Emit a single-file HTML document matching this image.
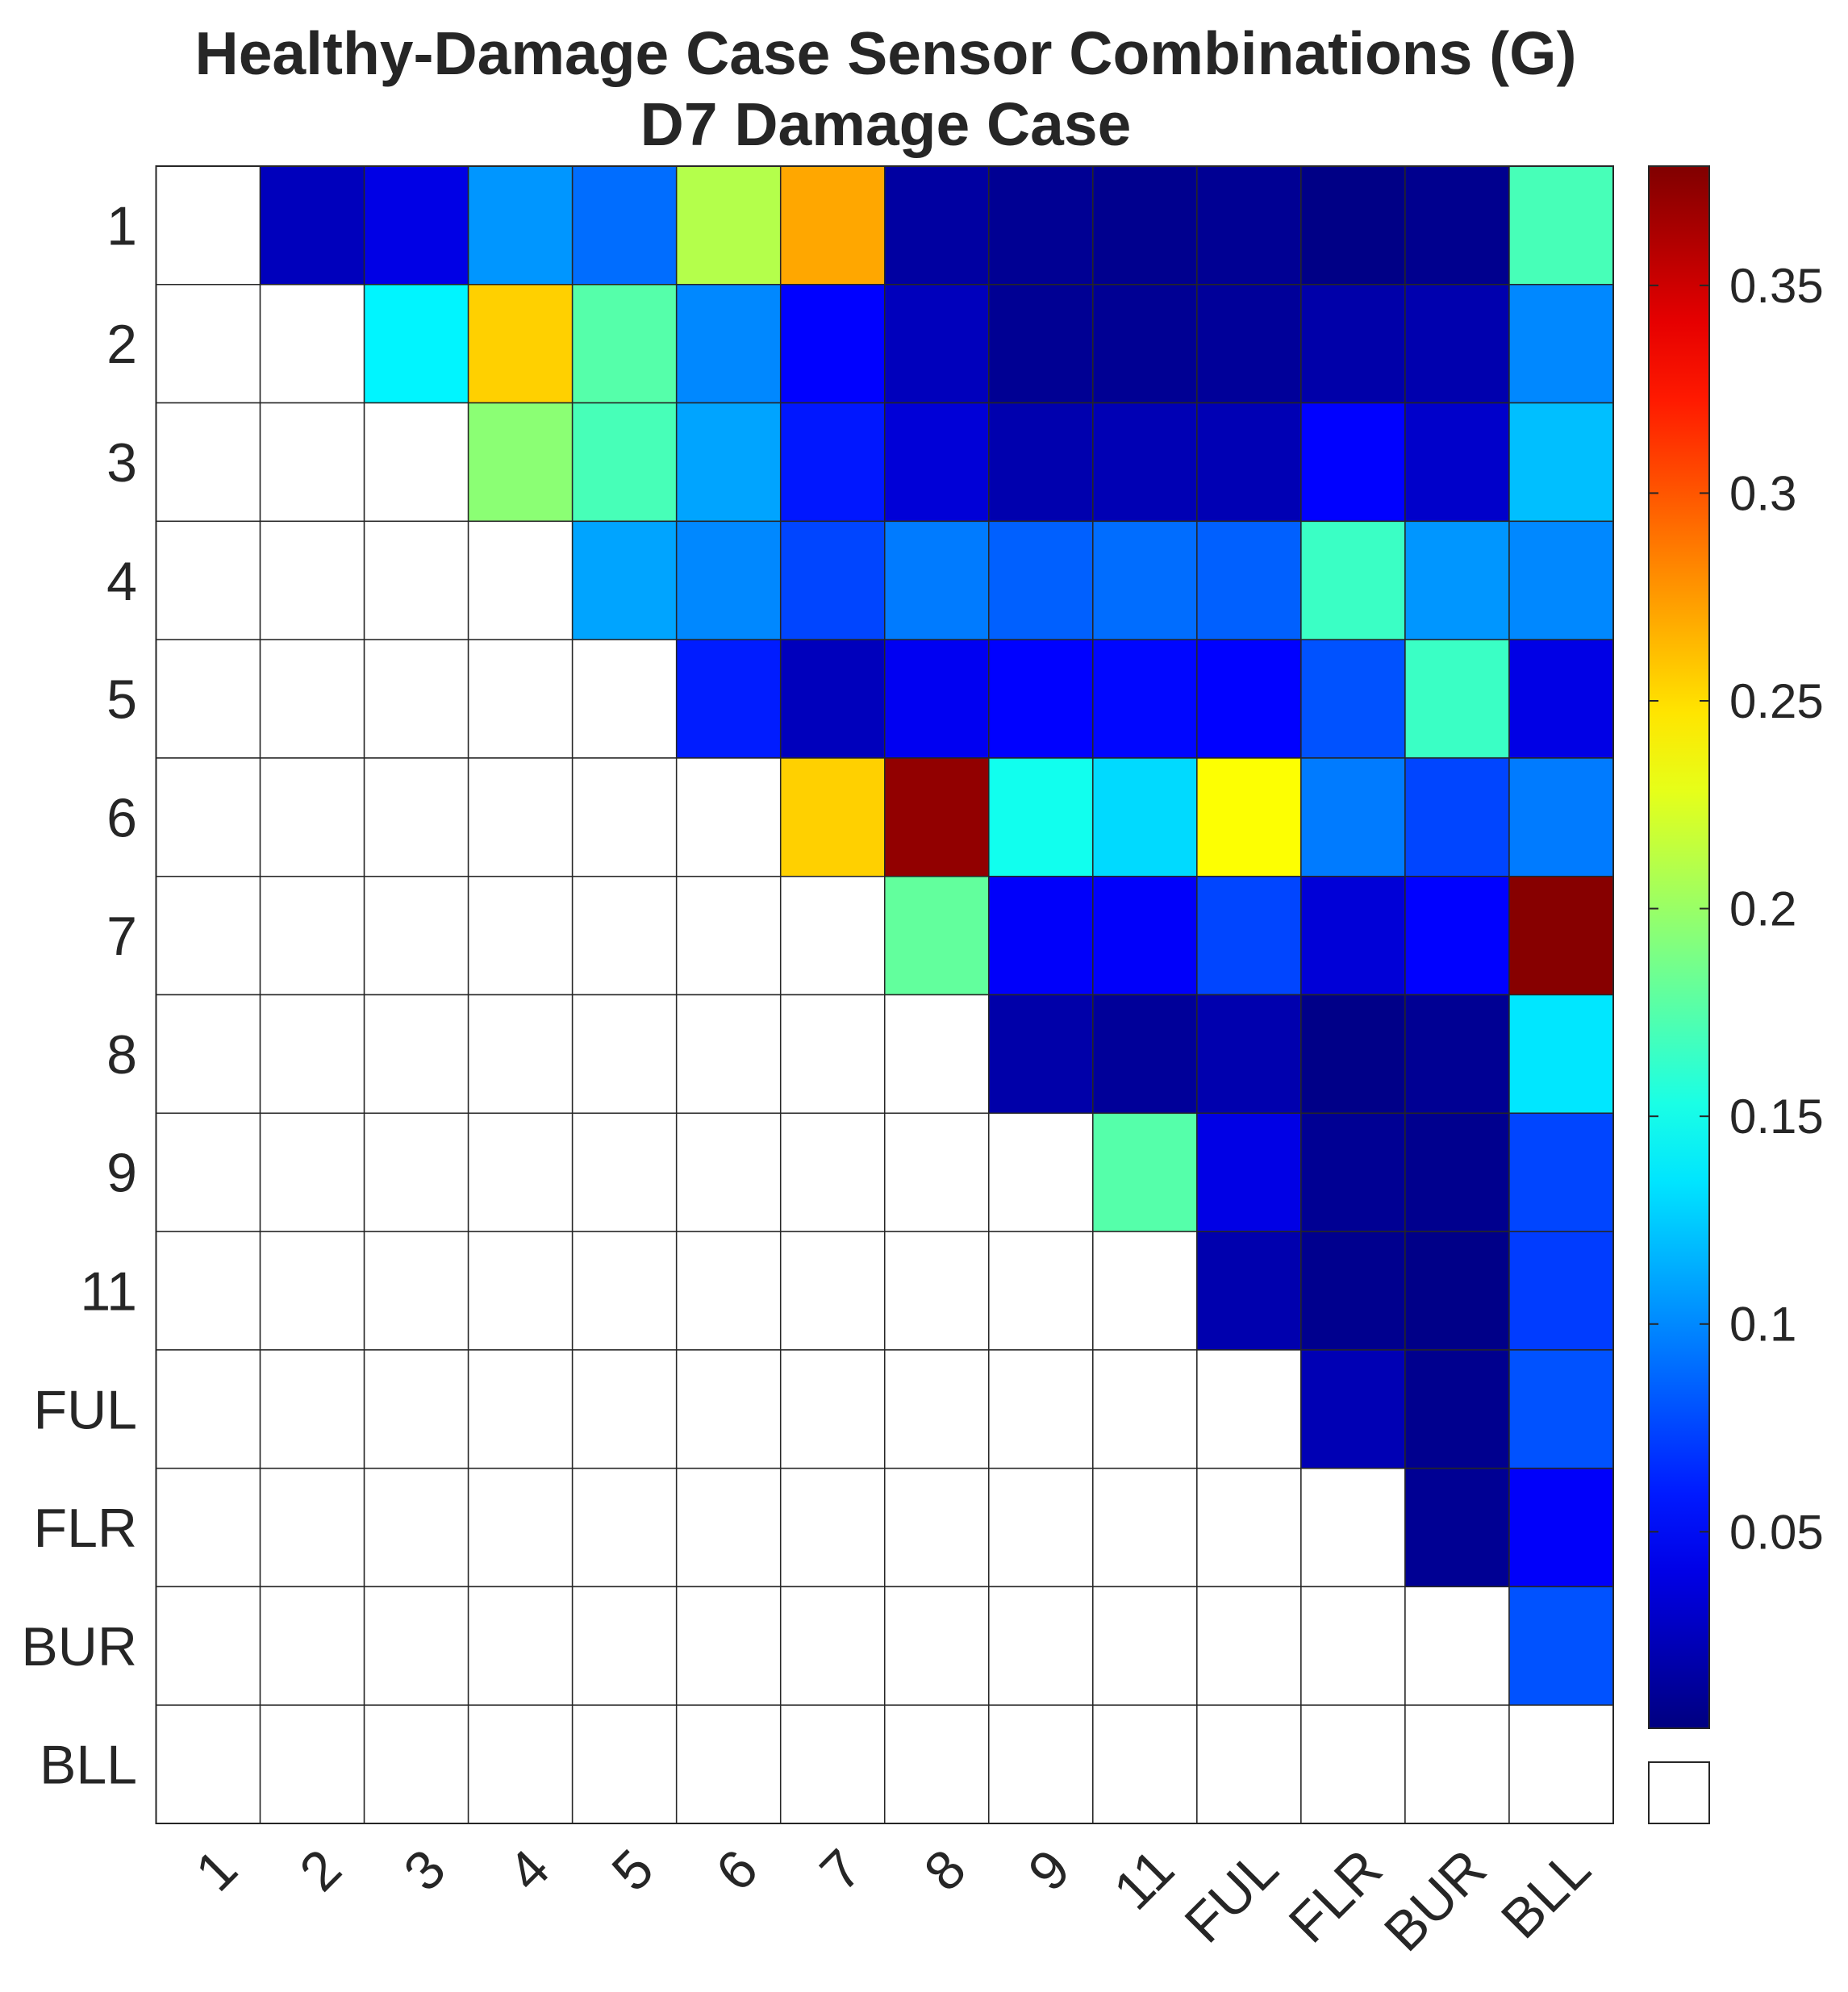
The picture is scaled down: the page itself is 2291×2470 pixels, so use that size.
<!DOCTYPE html>
<html><head><meta charset="utf-8"><style>
html,body{margin:0;padding:0;background:#fff;}
svg{display:block;font-family:"Liberation Sans",sans-serif;}
</style></head><body>
<svg id="chart" width="2291" height="2470" viewBox="0 0 2291 2470" xmlns="http://www.w3.org/2000/svg">
<text x="1098" y="92" text-anchor="middle" font-size="75" font-weight="bold" fill="#262626">Healthy-Damage Case Sensor Combinations (G)</text>
<text x="1098" y="180" text-anchor="middle" font-size="75" font-weight="bold" fill="#262626">D7 Damage Case</text>
<g id="cells"></g>
<g id="labels"></g>
<g id="cbar"></g>
</svg>
<script>
const categories = ["1","2","3","4","5","6","7","8","9","11","FUL","FLR","BUR","BLL"];
const row1 = [0.025,0.04,0.105,0.09,0.21,0.27,0.015,0.01,0.008,0.01,0.005,0.008,0.17];
const row2 = [0.14,0.255,0.175,0.1,0.05,0.025,0.01,0.01,0.012,0.018,0.02,0.1];
const row3 = [0.195,0.17,0.11,0.058,0.035,0.02,0.022,0.022,0.05,0.03,0.12];
const row4 = [0.11,0.1,0.075,0.095,0.085,0.09,0.085,0.165,0.105,0.1];
const row5 = [0.06,0.025,0.045,0.05,0.052,0.05,0.08,0.165,0.04];
const row6 = [0.255,0.372,0.15,0.13,0.237,0.095,0.075,0.095];
const row7 = [0.18,0.048,0.048,0.075,0.035,0.05,0.376];
const row8 = [0.018,0.012,0.02,0.006,0.01,0.135];
const row9 = [0.175,0.04,0.01,0.008,0.075];
const row11 = [0.02,0.008,0.006,0.072];
const rowFUL = [0.022,0.008,0.08];
const rowFLR = [0.01,0.048];
const rowBUR = [0.08];
const rows = [row1,row2,row3,row4,row5,row6,row7,row8,row9,row11,rowFUL,rowFLR,rowBUR,[]];
const cbTicks = [0.05,0.1,0.15,0.2,0.25,0.3,0.35];
const cbTickLabels = ["0.05","0.1","0.15","0.2","0.25","0.3","0.35"];
const vmin = 0.0027, vmax = 0.3787;

const NS="http://www.w3.org/2000/svg";
const L=193.5,R=2000,T=206,B=2261;
const n=categories.length, cw=(R-L)/n, ch=(B-T)/n;
function jet(v){
  let t=(v-vmin)/(vmax-vmin); t=Math.max(0,Math.min(1,t));
  const f=x=>Math.max(0,Math.min(1,x));
  const r=f(1.5-Math.abs(4*t-3)), g=f(1.5-Math.abs(4*t-2)), b=f(1.5-Math.abs(4*t-1));
  return `rgb(${Math.round(r*255)},${Math.round(g*255)},${Math.round(b*255)})`;
}
function mk(tag,attrs,parent){const e=document.createElementNS(NS,tag);for(const k in attrs)e.setAttribute(k,attrs[k]);parent.appendChild(e);return e;}
const cells=document.getElementById('cells');
for(let i=0;i<n;i++){for(let j=0;j<n;j++){
  let fill="#fff";
  if(j>i){fill=jet(rows[i][j-i-1]);}
  const r=mk('rect',{x:L+j*cw,y:T+i*ch,width:cw,height:ch,fill:fill,stroke:"#262626","stroke-width":1.5},cells);
  
  
}}
mk('rect',{x:L,y:T,width:R-L,height:B-T,fill:"none",stroke:"#262626","stroke-width":2},cells);
const labels=document.getElementById('labels');
categories.forEach((c,i)=>{
  const t=mk('text',{x:170,y:T+(i+0.5)*ch+24,"text-anchor":"end","font-size":68,fill:"#262626"},labels);
  t.textContent=c;
  
  
  const x=L+(i+0.5)*cw+40, y=2322;
  const u=mk('text',{x:x,y:y,"text-anchor":"end","font-size":68,fill:"#262626",transform:`rotate(-45 ${x} ${y})`},labels);
  u.textContent=c;
  
  
});
const cb=document.getElementById('cbar');
const cx=2044,cwid=75,cT=206,cB=2143;
const defs=mk('defs',{},cb);
const grad=mk('linearGradient',{id:'jetg',x1:0,y1:1,x2:0,y2:0},defs);
for(let k=0;k<=20;k++){mk('stop',{offset:k/20,"stop-color":jet(vmin+(vmax-vmin)*k/20)},grad);}
const bar=mk('rect',{x:cx,y:cT,width:cwid,height:cB-cT,fill:"url(#jetg)",stroke:"#262626","stroke-width":2},cb);


const yv=v=>cB-(v-vmin)/(vmax-vmin)*(cB-cT);
cbTicks.forEach((v,k)=>{
  const y=yv(v);
  mk('line',{x1:cx,x2:cx+12,y1:y,y2:y,stroke:"#262626","stroke-width":2},cb);
  mk('line',{x1:cx+cwid-12,x2:cx+cwid,y1:y,y2:y,stroke:"#262626","stroke-width":2},cb);
  const t=mk('text',{x:cx+100,y:y+21,"font-size":60,fill:"#262626"},cb);
  t.textContent=cbTickLabels[k];
  
  
});
const wb=mk('rect',{x:cx,y:2185,width:cwid,height:76,fill:"#fff",stroke:"#262626","stroke-width":2},cb);


</script>
</body></html>
